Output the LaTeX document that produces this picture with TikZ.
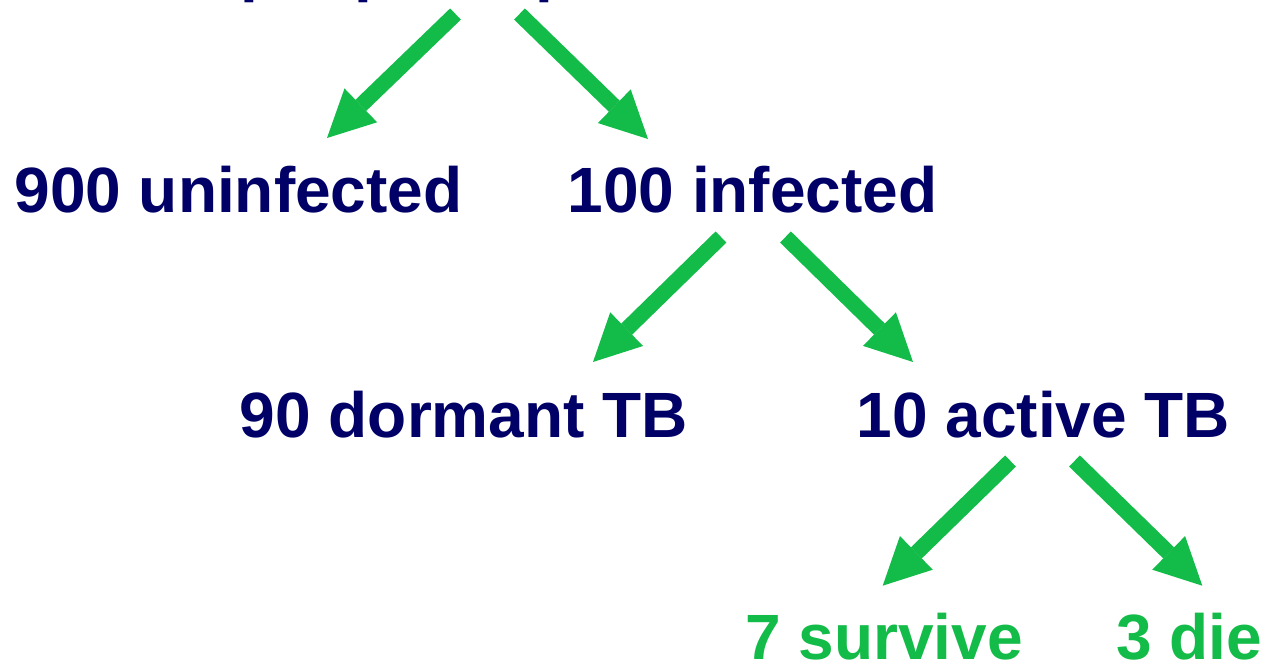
\documentclass[tikz,border=0pt]{standalone}
\usepackage{fontspec}
\setmainfont{Liberation Sans}
\usetikzlibrary{arrows.meta}
\definecolor{navy}{RGB}{0,0,102}
\definecolor{tbgreen}{RGB}{19,187,72}
\begin{document}
\begin{tikzpicture}[x=1pt,y=-1pt,
  lbl/.style={inner sep=0pt,anchor=base,font=\fontsize{64}{76}\selectfont\bfseries,text=navy},
  outcome/.style={lbl,text=tbgreen},
  bigarrow/.style={draw=tbgreen,line width=15.5pt,line cap=butt,
    -{Triangle[width=47pt,length=47pt,line width=0pt]}}]
\useasboundingbox (0,0) rectangle (1270,662);
\begin{scope}
\clip (0,0) rectangle (1270,662);
\node[lbl,anchor=base west] (top) at (80,-10.5) {1000 people exposed to TB};
\end{scope}
\node[lbl] (un) at (238.5,212) {900 uninfected};
\node[lbl] (inf) at (752.5,212) {100 infected};
\node[lbl] (dor) at (464,437) {90 dormant TB};
\node[lbl] (act) at (1043.5,437) {10 active TB};
\node[outcome] (sur) at (884,659) {7 survive};
\node[outcome] (die) at (1189,659) {3 die};
% arrow ends
\coordinate (t1) at (455.5,14);   \coordinate (h1) at (327,138);
\coordinate (t2) at (519.5,14);   \coordinate (h2) at (648,139);
\coordinate (t3) at (721,237);    \coordinate (h3) at (593,362);
\coordinate (t4) at (785.5,237);  \coordinate (h4) at (913,362);
\coordinate (t5) at (1010.5,461); \coordinate (h5) at (882.7,585.7);
\coordinate (t6) at (1074.5,461); \coordinate (h6) at (1202.3,585.7);
\draw[bigarrow] (t1) -- (h1);
\draw[bigarrow] (t2) -- (h2);
\draw[bigarrow] (t3) -- (h3);
\draw[bigarrow] (t4) -- (h4);
\draw[bigarrow] (t5) -- (h5);
\draw[bigarrow] (t6) -- (h6);
\end{tikzpicture}
\end{document}
